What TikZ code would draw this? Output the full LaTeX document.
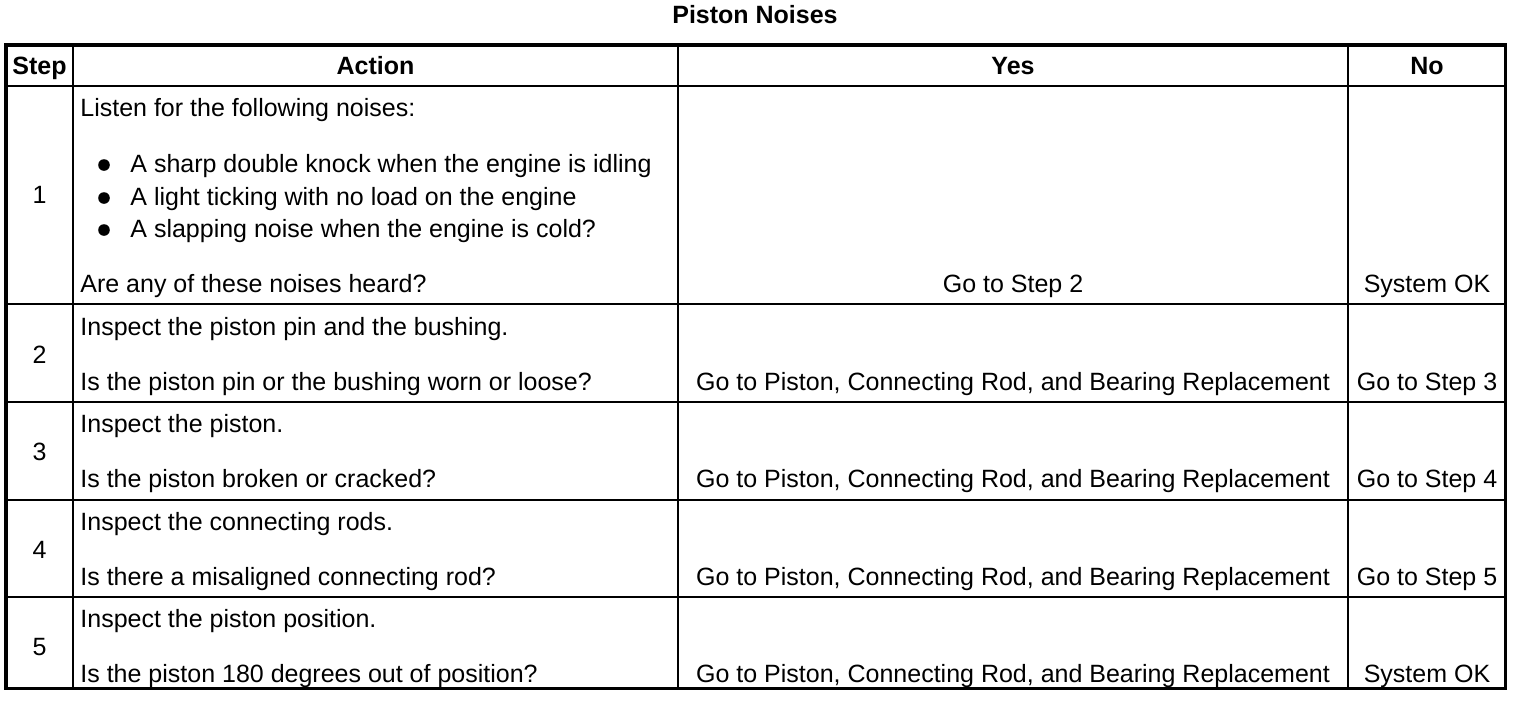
\documentclass[tikz,border=0pt]{standalone}
\usepackage{fontspec}
\setmainfont{Liberation Sans}
\tikzset{
    cell/.style={inner sep=0pt, anchor=base west},
    centred/.style={inner sep=0pt, anchor=base},
    head/.style={inner sep=0pt, anchor=base, font=\bfseries\fontsize{12.5}{15}\selectfont},
    rule/.style={line width=1pt},
    frame/.style={line width=1.8pt},
    dot/.style={circle, fill, inner sep=0pt, minimum size=5.8pt}
}
\begin{document}
\begin{tikzpicture}[x=0.5pt, y=-0.5pt, font=\fontsize{12.5}{15}\selectfont]
    \useasboundingbox (0,0) rectangle (1520,702);
    % title
    \node[head] (title) at (755,23) {Piston Noises};
    % grid
    \foreach \y in {86,303.5,402,499.5,597} {
        \draw[rule] (6,\y) -- (1505.5,\y);
    }
    \foreach \x in {73,678,1348} {
        \draw[rule] (\x,45) -- (\x,688.5);
    }
    \draw[frame] (6,45) rectangle (1505.5,688.5);
    % header
    \node[head] (hstep) at (39.5,74) {Step};
    \node[head] (haction) at (375.5,74) {Action};
    \node[head] (hyes) at (1013,74) {Yes};
    \node[head] (hno) at (1427,74) {No};
    % step 1
    \node[centred] (s1) at (39.5,203) {1};
    \node[cell] (a1) at (80,116) {Listen for the following noises:};
    \foreach \y/\t [count=\i] in {172/A sharp double knock when the engine is idling,
                                  205/A light ticking with no load on the engine,
                                  237/A slapping noise when the engine is cold?} {
        \node[dot] (b\i) at (104,\y-7) {};
        \node[cell] (l\i) at (130,\y) {\t};
    }
    \node[cell] (q1) at (80,292) {Are any of these noises heard?};
    \node[centred] (y1) at (1013,292) {Go to Step 2};
    \node[centred] (n1) at (1427,292) {System OK};
    % steps 2 to 5
    \foreach \n/\y/\a/\q/\no in {
        2/335/Inspect the piston pin and the bushing./Is the piston pin or the bushing worn or loose?/Go to Step 3,
        3/432/Inspect the piston./Is the piston broken or cracked?/Go to Step 4,
        4/530/Inspect the connecting rods./Is there a misaligned connecting rod?/Go to Step 5,
        5/627/Inspect the piston position./Is the piston 180 degrees out of position?/System OK} {
        \node[centred] (s\n) at (39.5,\y+28) {\n};
        \node[cell] (a\n) at (80,\y) {\a};
        \node[cell] (q\n) at (80,\y+55) {\q};
        \node[centred] (y\n) at (1013,\y+55) {Go to Piston, Connecting Rod, and Bearing Replacement};
        \node[centred] (n\n) at (1427,\y+55) {\no};
    }
\end{tikzpicture}
\end{document}
